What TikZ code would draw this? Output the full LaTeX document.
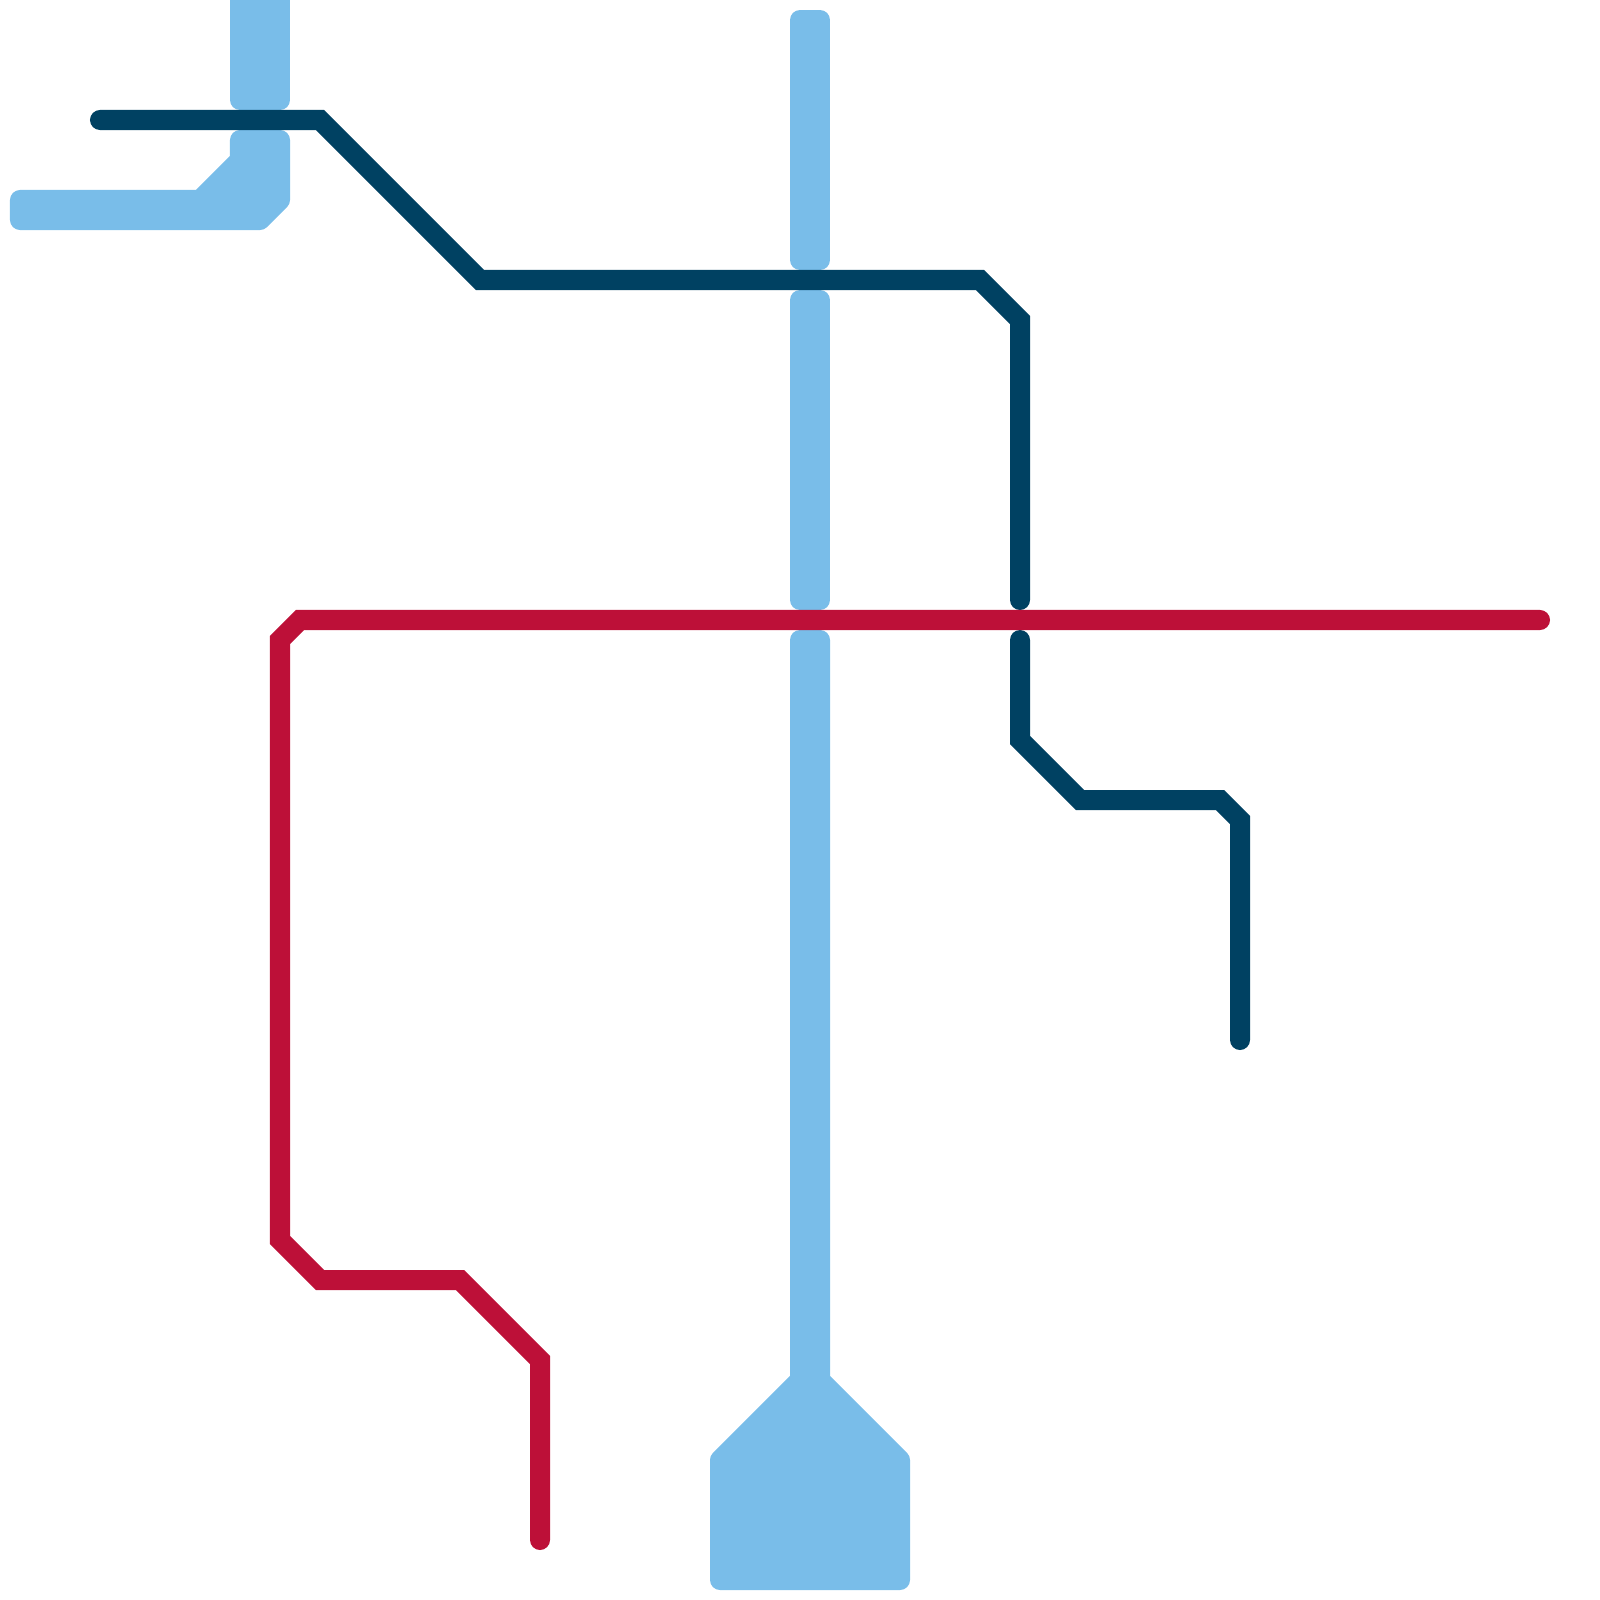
\documentclass[tikz,border=0pt]{standalone}
\usepackage{xcolor}
\definecolor{lineblue}{RGB}{121, 189, 233}
\definecolor{linenavy}{RGB}{0, 65, 98}
\definecolor{linered}{RGB}{189, 16, 56}

\begin{document}
\begin{tikzpicture}[
    x=0.01cm, y=-0.01cm,
    wideline/.style={draw=lineblue, fill=lineblue, line width=0.2cm, line join=round, line cap=round},
    navyline/.style={draw=linenavy, line width=0.2cm, line join=miter, line cap=round},
    redline/.style={draw=linered, line width=0.2cm, line join=miter, line cap=round}
]
\useasboundingbox (0,0) rectangle (1600,1600);

% Wide blue band, top left
\path[wideline] (240,-40) -- (280,-40) -- (280,100) -- (240,100) -- cycle;
\path[wideline] (20,200) -- (200,200) -- (240,160) -- (240,140) -- (280,140) -- (280,200) -- (260,220) -- (20,220) -- cycle;

% Wide blue band, centre
\foreach \ya/\yb in {20/260, 300/600}
    \path[wideline] (800,\ya) -- (820,\ya) -- (820,\yb) -- (800,\yb) -- cycle;
\path[wideline] (800,640) -- (820,640) -- (820,1380) -- (900,1460) -- (900,1580) -- (720,1580) -- (720,1460) -- (800,1380) -- cycle;

% Navy line
\draw[navyline] (100,120) -- (320,120) -- (480,280) -- (980,280) -- (1020,320) -- (1020,600);
\draw[navyline] (1020,640) -- (1020,740) -- (1080,800) -- (1220,800) -- (1240,820) -- (1240,1040);

% Red line
\draw[redline] (1540,620) -- (300,620) -- (280,640) -- (280,1240) -- (320,1280) -- (460,1280) -- (540,1360) -- (540,1540);

\end{tikzpicture}
\end{document}
